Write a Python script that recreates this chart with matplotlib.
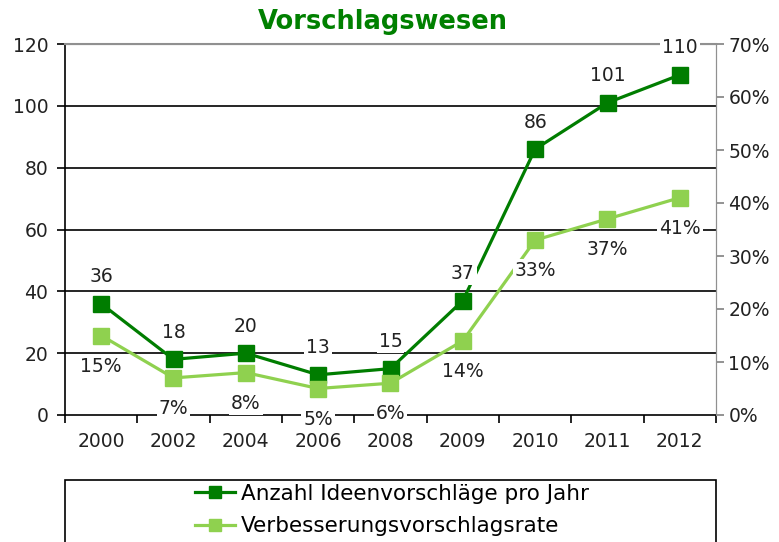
import numpy as np
import matplotlib
matplotlib.use("Agg")
import matplotlib.pyplot as plt
from matplotlib.patches import Rectangle

# Daten aus dem Diagramm
jahre = ["2000", "2002", "2004", "2006", "2008", "2009", "2010", "2011", "2012"]
anzahl = [36, 18, 20, 13, 15, 37, 86, 101, 110]
rate = [15, 7, 8, 5, 6, 14, 33, 37, 41]  # in Prozent

dunkel = "#007d00"
hell = "#8fd14f"
txt = "#222222"
fs = 13.5

plt.rcParams["font.family"] = ["DejaVu Sans"]

fig = plt.figure(figsize=(7.79, 5.42), dpi=100)
ax = fig.add_axes([65 / 779, 1 - 415 / 542, 651 / 779, 371 / 542])
ax2 = ax.twinx()

x = np.arange(len(jahre))

l1, = ax.plot(x, anzahl, color=dunkel, lw=2.3, marker="s", ms=11.5,
              label="Anzahl Ideenvorschläge pro Jahr")
l2, = ax2.plot(x, np.array(rate) / 100, color=hell, lw=2.3, marker="s", ms=11.5,
               label="Verbesserungsvorschlagsrate")

ax.set_xlim(-0.5, len(jahre) - 0.5)
ax.set_ylim(0, 120)
ax.set_yticks(range(0, 121, 20))
ax2.set_ylim(0, 0.7)
ax2.set_yticks(np.arange(0, 0.71, 0.1))
ax2.set_yticklabels([f"{int(round(v * 100))}%" for v in np.arange(0, 0.71, 0.1)])

ax.set_xticks(x)
ax.set_xticklabels(jahre)
ax.set_xticks(np.arange(-0.5, len(jahre), 1), minor=True)
ax.tick_params(axis="x", which="major", length=0, pad=12, labelsize=fs, colors=txt)
ax.tick_params(axis="x", which="minor", length=6, width=1.2, color="black")
ax.tick_params(axis="y", length=6, width=1.2, labelsize=fs, colors=txt, pad=6)
ax.tick_params(axis="y", color="black")
ax2.tick_params(axis="y", length=6, width=1.2, labelsize=fs, colors=txt, color="#808080", pad=3)

for y in range(20, 101, 20):
    ax.axhline(y, color="black", lw=1.2, zorder=0)

for s in ["top", "right"]:
    ax.spines[s].set_color("#909090")
    ax2.spines[s].set_color("#909090")
for s in ["left", "bottom"]:
    ax.spines[s].set_color("black")
    ax.spines[s].set_linewidth(1.2)
ax2.spines["left"].set_visible(False)
ax2.spines["bottom"].set_visible(False)
ax2.spines["top"].set_linewidth(1.5)

box = dict(boxstyle="square,pad=0.1", fc="white", ec="none")
for i, v in enumerate(anzahl):
    ax2.annotate(str(v), xy=(i, v), xycoords=ax.transData, xytext=(0, 19.5),
                 textcoords="offset points", ha="center", va="center",
                 fontsize=fs, color=txt, bbox=box, zorder=5,
                 annotation_clip=False)
for i, v in enumerate(rate):
    ax2.annotate(f"{v}%", xy=(i, v / 100), xytext=(0, -22),
                 textcoords="offset points", ha="center", va="center",
                 fontsize=fs, color=txt, bbox=box, zorder=5,
                 annotation_clip=False)

fig.text(383 / 779, 1 - 22 / 542, "Vorschlagswesen", ha="center", va="center",
         fontsize=18.5, fontweight="bold", color="#008000")

# Legendenrahmen
fig.patches.append(Rectangle((65 / 779, -0.05), 651 / 779, 0.05 + 62 / 542,
                             transform=fig.transFigure, fill=False,
                             ec="black", lw=1.2))
fig.legend(handles=[l1, l2], loc="upper left",
           bbox_to_anchor=(195 / 779, 1 - 484 / 542), frameon=False,
           borderaxespad=0, borderpad=0,
           fontsize=15.5, handlelength=1.85, handletextpad=0.3,
           labelspacing=0.58, markerscale=0.75)

fig.savefig("out.png", dpi=100)
